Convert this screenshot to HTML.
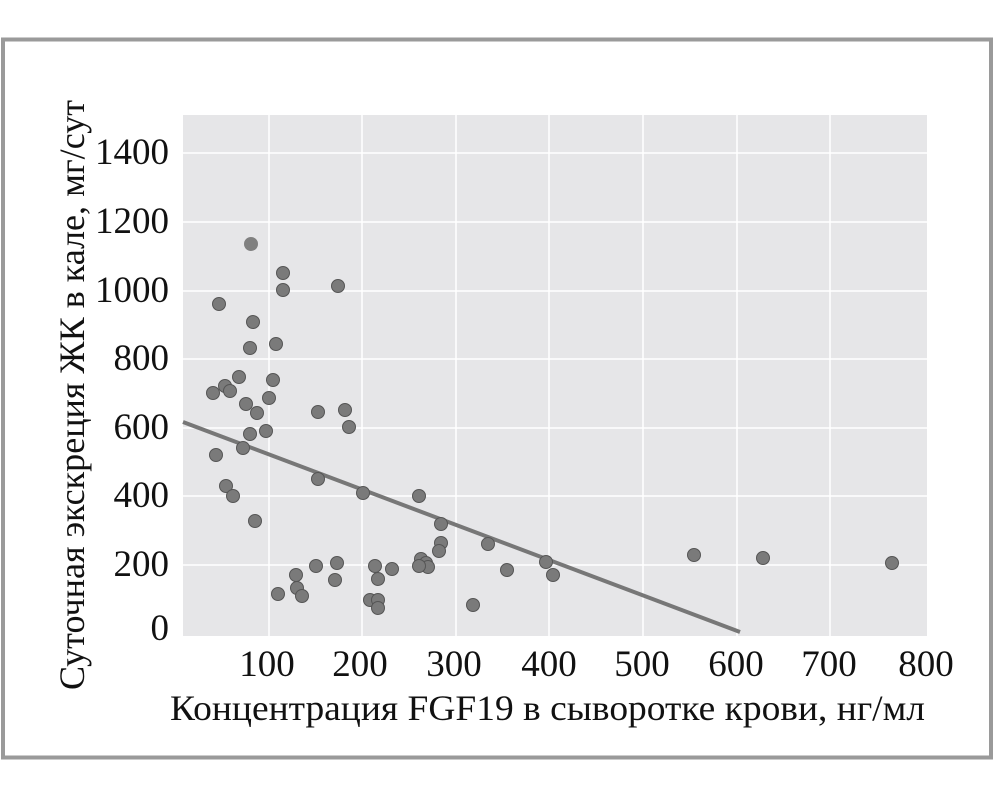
<!DOCTYPE html>
<html><head><meta charset="utf-8"><style>
body{margin:0;background:#fff}
svg{display:block}
text{font-family:"Liberation Serif",serif;fill:#111}
</style></head><body>
<svg width="1002" height="804" viewBox="0 0 1002 804">
<rect x="0" y="0" width="1002" height="804" fill="#fff"/>
<rect x="3" y="39.5" width="988" height="718" fill="none" stroke="#9a9a9a" stroke-width="4"/>
<rect x="183" y="115" width="744" height="521" fill="#e6e6e8"/>
<g stroke="#fff" stroke-width="1.5">
<line x1="269" y1="115" x2="269" y2="636"/><line x1="362" y1="115" x2="362" y2="636"/>
<line x1="456" y1="115" x2="456" y2="636"/><line x1="549" y1="115" x2="549" y2="636"/>
<line x1="643" y1="115" x2="643" y2="636"/><line x1="737" y1="115" x2="737" y2="636"/>
<line x1="830" y1="115" x2="830" y2="636"/>
<line x1="183" y1="153" x2="927" y2="153"/><line x1="183" y1="222" x2="927" y2="222"/>
<line x1="183" y1="291" x2="927" y2="291"/><line x1="183" y1="359" x2="927" y2="359"/>
<line x1="183" y1="428" x2="927" y2="428"/><line x1="183" y1="496" x2="927" y2="496"/>
<line x1="183" y1="565" x2="927" y2="565"/>
</g>
<line x1="183" y1="422" x2="740" y2="632" stroke="#777" stroke-width="4"/>
<circle cx="251" cy="244" r="7" fill="#808080"/>
<g fill="#7a7a7a" stroke="#555" stroke-width="1">
<circle cx="283" cy="273" r="6.5"/><circle cx="283" cy="290" r="6.5"/><circle cx="338" cy="286" r="6.5"/>
<circle cx="219" cy="304" r="6.5"/><circle cx="253" cy="322" r="6.5"/><circle cx="250" cy="348" r="6.5"/>
<circle cx="276" cy="344" r="6.5"/><circle cx="239" cy="377" r="6.5"/><circle cx="225" cy="386" r="6.5"/>
<circle cx="230" cy="391" r="6.5"/><circle cx="273" cy="380" r="6.5"/><circle cx="213" cy="393" r="6.5"/>
<circle cx="269" cy="398" r="6.5"/><circle cx="246" cy="404" r="6.5"/><circle cx="257" cy="413" r="6.5"/>
<circle cx="345" cy="410" r="6.5"/><circle cx="318" cy="412" r="6.5"/><circle cx="349" cy="427" r="6.5"/>
<circle cx="266" cy="431" r="6.5"/><circle cx="250" cy="434" r="6.5"/><circle cx="243" cy="448" r="6.5"/>
<circle cx="216" cy="455" r="6.5"/><circle cx="318" cy="479" r="6.5"/><circle cx="226" cy="486" r="6.5"/>
<circle cx="233" cy="496" r="6.5"/><circle cx="363" cy="493" r="6.5"/><circle cx="419" cy="496" r="6.5"/>
<circle cx="255" cy="521" r="6.5"/><circle cx="441" cy="524" r="6.5"/><circle cx="441" cy="543" r="6.5"/>
<circle cx="488" cy="544" r="6.5"/><circle cx="421" cy="559" r="6.5"/><circle cx="426" cy="563" r="6.5"/>
<circle cx="337" cy="563" r="6.5"/><circle cx="316" cy="566" r="6.5"/><circle cx="375" cy="566" r="6.5"/>
<circle cx="428" cy="567" r="6.5"/><circle cx="419" cy="566" r="6.5"/><circle cx="392" cy="569" r="6.5"/>
<circle cx="296" cy="575" r="6.5"/><circle cx="439" cy="551" r="6.5"/>
<circle cx="335" cy="580" r="6.5"/><circle cx="378" cy="579" r="6.5"/><circle cx="278" cy="594" r="6.5"/>
<circle cx="297" cy="588" r="6.5"/><circle cx="302" cy="596" r="6.5"/><circle cx="370" cy="600" r="6.5"/>
<circle cx="378" cy="600" r="6.5"/><circle cx="378" cy="608" r="6.5"/><circle cx="473" cy="605" r="6.5"/>
<circle cx="507" cy="570" r="6.5"/><circle cx="546" cy="562" r="6.5"/><circle cx="553" cy="575" r="6.5"/>
<circle cx="694" cy="555" r="6.5"/><circle cx="763" cy="558" r="6.5"/><circle cx="892" cy="563" r="6.5"/>
</g>
<g font-size="37" text-anchor="end">
<text x="169" y="164">1400</text><text x="169" y="233">1200</text><text x="169" y="302">1000</text>
<text x="169" y="370">800</text><text x="169" y="439">600</text><text x="169" y="507">400</text>
<text x="169" y="576">200</text><text x="169" y="640">0</text>
</g>
<g font-size="37" text-anchor="middle">
<text x="267" y="676">100</text><text x="360" y="676">200</text><text x="454" y="676">300</text>
<text x="549" y="676">400</text><text x="642" y="676">500</text><text x="736" y="676">600</text>
<text x="829" y="676">700</text><text x="926" y="676">800</text>
</g>
<text x="170" y="720" font-size="36" textLength="755" lengthAdjust="spacingAndGlyphs">Концентрация FGF19 в сыворотке крови, нг/мл</text>
<text transform="translate(84,395) rotate(-90)" font-size="36" text-anchor="middle" textLength="590" lengthAdjust="spacingAndGlyphs">Суточная экскреция ЖК в кале, мг/сут</text>
</svg>
</body></html>
